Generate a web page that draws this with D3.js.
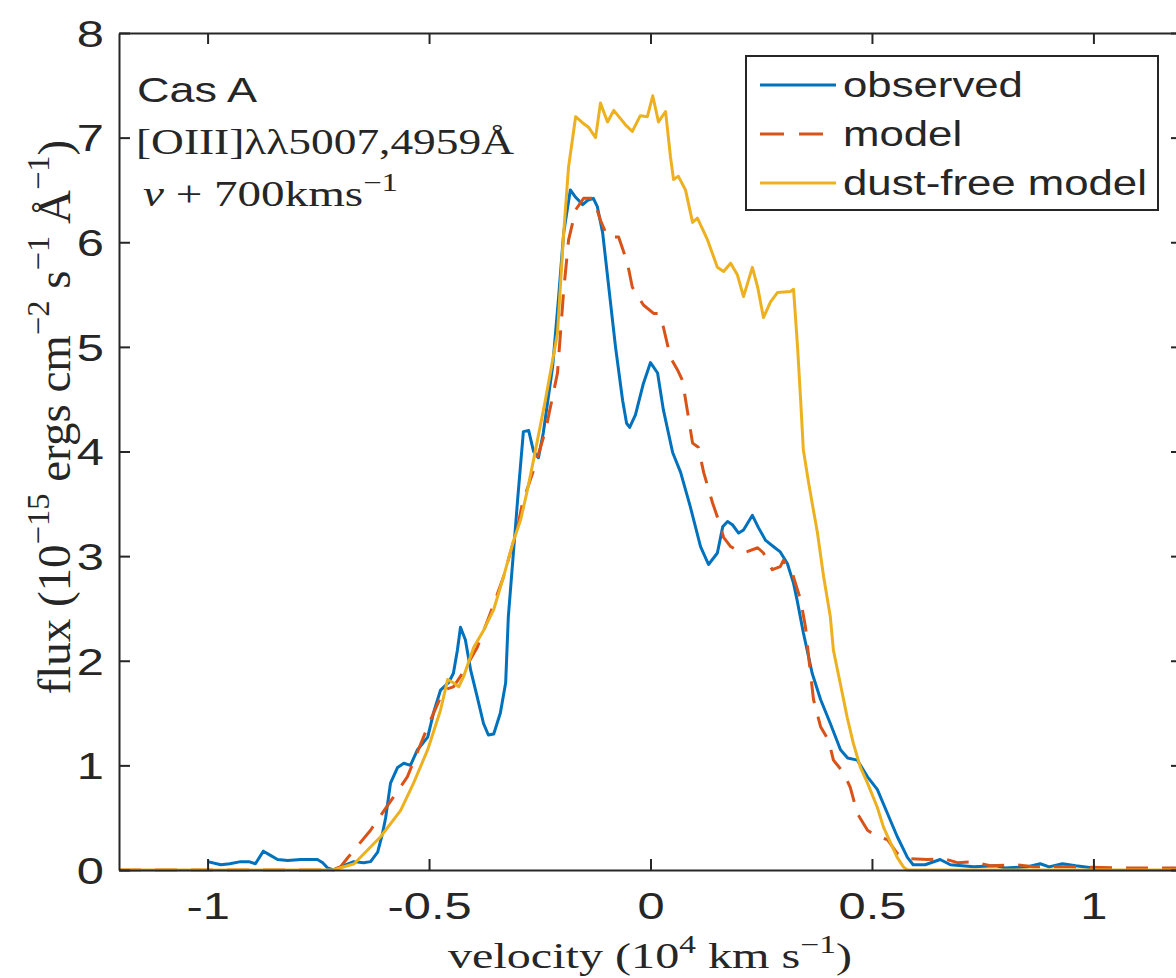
<!DOCTYPE html>
<html>
<head>
<meta charset="utf-8">
<script src="https://cdn.jsdelivr.net/npm/d3@7.9.0/dist/d3.min.js"></script>
<style>
  html, body { margin: 0; padding: 0; background: #fff; overflow: hidden; }
  svg { display: block; }
</style>
</head>
<body>
<svg id="chart" width="1176" height="978"></svg>
<script>
// velocity (10^4 km/s) vs flux (10^-15 ergs cm^-2 s^-1 A^-1)
const observed = [
  [-1.00,0.08],[-0.97,0.05],[-0.95,0.06],[-0.925,0.08],[-0.907,0.08],[-0.892,0.06],[-0.874,0.18],
  [-0.858,0.14],[-0.842,0.10],[-0.819,0.09],[-0.79,0.10],[-0.752,0.10],[-0.74,0.07],[-0.729,0.02],
  [-0.716,0.00],[-0.70,0.03],[-0.67,0.08],[-0.648,0.07],[-0.632,0.08],[-0.616,0.17],[-0.605,0.35],
  [-0.598,0.50],[-0.587,0.83],[-0.571,0.98],[-0.557,1.02],[-0.542,1.00],[-0.526,1.15],[-0.503,1.27],
  [-0.490,1.50],[-0.474,1.72],[-0.456,1.79],[-0.445,1.88],[-0.436,2.10],[-0.429,2.32],[-0.418,2.20],
  [-0.406,1.91],[-0.391,1.65],[-0.377,1.40],[-0.366,1.29],[-0.354,1.30],[-0.339,1.50],[-0.327,1.79],
  [-0.321,2.42],[-0.309,3.06],[-0.300,3.54],[-0.287,4.19],[-0.275,4.20],[-0.264,4.00],[-0.253,3.94],
  [-0.242,4.18],[-0.221,4.81],[-0.208,5.45],[-0.196,6.09],[-0.181,6.50],[-0.169,6.43],[-0.153,6.36],
  [-0.142,6.40],[-0.129,6.42],[-0.120,6.34],[-0.108,6.09],[-0.095,5.60],[-0.079,5.00],[-0.063,4.49],
  [-0.054,4.27],[-0.047,4.23],[-0.034,4.35],[-0.016,4.65],[0.000,4.85],[0.016,4.75],[0.029,4.40],
  [0.050,3.99],[0.068,3.80],[0.090,3.47],[0.113,3.09],[0.131,2.92],[0.151,3.03],[0.163,3.28],
  [0.174,3.33],[0.185,3.30],[0.199,3.22],[0.210,3.25],[0.230,3.39],[0.244,3.27],[0.260,3.15],
  [0.278,3.09],[0.293,3.04],[0.309,2.93],[0.323,2.74],[0.331,2.58],[0.345,2.27],[0.365,1.88],
  [0.384,1.63],[0.406,1.40],[0.429,1.15],[0.445,1.07],[0.467,1.05],[0.490,0.89],[0.512,0.77],
  [0.535,0.54],[0.557,0.32],[0.580,0.12],[0.593,0.05],[0.620,0.05],[0.654,0.10],[0.677,0.05],
  [0.73,0.03],[0.78,0.04],[0.80,0.02],[0.85,0.03],[0.88,0.06],[0.90,0.03],[0.93,0.06],[0.96,0.04],
  [1.00,0.02]
];

const model = [
  [-1.2,0.0],[-0.72,0.0],[-0.70,0.03],[-0.685,0.11],[-0.632,0.38],[-0.580,0.70],[-0.549,0.89],
  [-0.503,1.37],[-0.467,1.72],[-0.445,1.75],[-0.429,1.85],[-0.391,2.13],[-0.361,2.46],[-0.332,2.80],
  [-0.300,3.28],[-0.289,3.51],[-0.264,3.82],[-0.237,4.20],[-0.210,4.75],[-0.196,5.54],[-0.185,6.02],
  [-0.169,6.31],[-0.151,6.42],[-0.129,6.42],[-0.113,6.21],[-0.097,6.05],[-0.072,6.05],[-0.052,5.80],
  [-0.041,5.57],[-0.016,5.40],[0.007,5.32],[0.018,5.32],[0.029,5.19],[0.045,4.90],[0.061,4.78],
  [0.072,4.68],[0.084,4.37],[0.095,4.08],[0.108,4.04],[0.120,3.80],[0.140,3.51],[0.153,3.35],
  [0.165,3.18],[0.181,3.09],[0.210,3.03],[0.242,3.08],[0.255,3.03],[0.275,2.87],[0.293,2.90],
  [0.300,2.96],[0.320,2.84],[0.339,2.58],[0.350,2.32],[0.357,2.04],[0.368,1.63],[0.384,1.37],
  [0.402,1.24],[0.413,1.05],[0.436,0.93],[0.451,0.79],[0.467,0.54],[0.490,0.38],[0.512,0.32],
  [0.535,0.29],[0.557,0.16],[0.580,0.11],[0.625,0.10],[0.661,0.11],[0.693,0.07],[0.729,0.08],
  [0.767,0.04],[0.828,0.05],[0.865,0.03],[0.95,0.03],[1.05,0.02],[1.2,0.02]
];

const dustFree = [
  [-1.2,0.0],[-0.716,0.0],[-0.669,0.06],[-0.609,0.32],[-0.564,0.57],[-0.535,0.83],[-0.503,1.15],
  [-0.474,1.53],[-0.458,1.82],[-0.445,1.79],[-0.433,1.75],[-0.422,1.85],[-0.399,2.13],[-0.377,2.29],
  [-0.354,2.49],[-0.332,2.80],[-0.309,3.15],[-0.293,3.35],[-0.278,3.63],[-0.264,3.92],[-0.237,4.50],
  [-0.210,5.13],[-0.196,6.09],[-0.185,6.72],[-0.169,7.20],[-0.153,7.14],[-0.140,7.10],[-0.124,7.00],
  [-0.113,7.33],[-0.097,7.15],[-0.083,7.26],[-0.056,7.12],[-0.041,7.06],[-0.023,7.21],[-0.007,7.20],
  [0.005,7.40],[0.018,7.15],[0.034,7.25],[0.045,6.82],[0.052,6.60],[0.063,6.63],[0.079,6.50],
  [0.095,6.19],[0.106,6.23],[0.129,6.02],[0.151,5.76],[0.165,5.72],[0.181,5.80],[0.196,5.69],
  [0.210,5.48],[0.230,5.76],[0.242,5.57],[0.255,5.28],[0.271,5.43],[0.287,5.52],[0.316,5.53],
  [0.323,5.55],[0.332,5.00],[0.339,4.49],[0.345,4.02],[0.357,3.70],[0.377,3.22],[0.391,2.80],
  [0.406,2.42],[0.413,2.10],[0.433,1.69],[0.444,1.46],[0.458,1.21],[0.474,0.98],[0.490,0.83],
  [0.512,0.60],[0.526,0.41],[0.542,0.26],[0.557,0.12],[0.571,0.03],[0.580,0.0],[1.2,0.0]
];

const xTicks = [-1, -0.5, 0, 0.5, 1];
const yTicks = [0, 1, 2, 3, 4, 5, 6, 7, 8];
const seriesNames = ['observed', 'model', 'dust-free model'];
const seriesColors = ['#0072BD', '#D95319', '#EDB120'];

const AXIS_COLOR = '#262626';
const SANS = '"Liberation Sans", Arial, Helvetica, sans-serif';
const SERIF = '"Liberation Serif", "Times New Roman", serif';
const SX = 1.32; // the figure is stretched sideways, so are its glyphs

const svg = d3.select('#chart');

const x = d3.scaleLinear().domain([-1.2, 1.2]).range([119, 1182]);
const y = d3.scaleLinear().domain([0, 8]).range([870, 33]);

// place a text block in a group and scale it sideways so it spans `width` px
function fitText(parent, leftX, baseline, width, build) {
  const g = parent.append('g');
  const t = g.append('text').attr('x', 0).attr('y', 0);
  build(t);
  const bb = t.node().getBBox();
  const k = width / bb.width;
  g.attr('transform', `translate(${leftX - bb.x * k},${baseline}) scale(${k},1)`);
  return k;
}

// superscript helper (dy in px so it works across font sizes)
function sup(t, str, size, rise) {
  t.append('tspan').attr('font-size', size).attr('dy', -rise).text(str);
}

// ----- lines -----
const line = d3.line().x(d => x(d[0])).y(d => y(d[1]));
const lines = svg.append('g');

[observed, model, dustFree].forEach((data, i) => {
  lines.append('path')
    .datum(data)
    .attr('d', line)
    .attr('fill', 'none')
    .attr('stroke', seriesColors[i])
    .attr('stroke-width', 3)
    .attr('stroke-linejoin', 'round')
    .attr('stroke-dasharray', i === 1 ? '22,14' : null);
});

// ----- axes (box with inward ticks) -----
const fmt = d => String(d);
const axBottom = svg.append('g')
  .attr('transform', `translate(0,${y(0)})`)
  .call(d3.axisBottom(x).tickValues(xTicks).tickSizeInner(-11).tickSizeOuter(0).tickPadding(0).tickFormat(fmt));
const axLeft = svg.append('g')
  .attr('transform', `translate(${x(-1.2)},0)`)
  .call(d3.axisLeft(y).tickValues(yTicks).tickSizeInner(-11).tickSizeOuter(0).tickPadding(0).tickFormat(fmt));
const axTop = svg.append('g')
  .attr('transform', `translate(0,${y(8)})`)
  .call(d3.axisTop(x).tickValues(xTicks).tickSizeInner(-11).tickSizeOuter(0).tickFormat(''));
const axRight = svg.append('g')
  .attr('transform', `translate(${x(1.2)},0)`)
  .call(d3.axisRight(y).tickValues(yTicks).tickSizeInner(-11).tickSizeOuter(0).tickFormat(''));

[axBottom, axLeft, axTop, axRight].forEach(a => {
  a.select('.domain').attr('stroke', AXIS_COLOR).attr('stroke-width', 2);
  a.selectAll('.tick line').attr('stroke', AXIS_COLOR).attr('stroke-width', 2);
});

axBottom.selectAll('.tick text')
  .attr('font-family', SANS).attr('font-size', 37).attr('fill', AXIS_COLOR)
  .attr('y', 49).attr('dy', null)
  .attr('transform', `scale(${SX},1)`);

axLeft.selectAll('.tick text')
  .attr('font-family', SANS).attr('font-size', 37).attr('fill', AXIS_COLOR)
  .attr('x', -15 / SX).attr('dy', '0.36em')
  .attr('transform', `scale(${SX},1)`);

// ----- annotations -----
const notes = svg.append('g').attr('fill', AXIS_COLOR);

fitText(notes, 137, 102, 121, t => t.attr('font-family', SANS).attr('font-size', 35).text('Cas A'));

fitText(notes, 136, 154, 378, t => t.attr('font-family', SERIF).attr('font-size', 36)
  .text('[OIII]λλ5007,4959Å'));

fitText(notes, 143, 206, 255, t => {
  t.attr('font-family', SERIF).attr('font-size', 36);
  t.append('tspan').attr('font-style', 'italic').text('v');
  t.append('tspan').text(' + 700kms');
  sup(t, '−1', 25, 15);
});

// x label
fitText(svg, 448, 968, 404, t => {
  t.attr('font-family', SERIF).attr('font-size', 36).attr('fill', AXIS_COLOR);
  t.append('tspan').text('velocity (10');
  sup(t, '4', 25, 15);
  t.append('tspan').attr('dy', 15).text(' km s');
  sup(t, '−1', 25, 15);
  t.append('tspan').attr('dy', 15).text(')');
});

// y label (rotated)
{
  const g = svg.append('g');
  const t = g.append('text').attr('x', 0).attr('y', 0)
    .attr('font-family', SERIF).attr('font-size', 36).attr('fill', AXIS_COLOR);
  t.append('tspan').text('flux (10');
  sup(t, '−15', 25, 16);
  t.append('tspan').attr('dy', 16).text(' ergs cm');
  sup(t, '−2', 25, 16);
  t.append('tspan').attr('dy', 16).text(' s');
  sup(t, '−1', 25, 16);
  t.append('tspan').attr('dy', 16).text(' Å');
  sup(t, '−1', 25, 16);
  t.append('tspan').attr('dy', 16).text(')');
  const bb = t.node().getBBox();
  const kLen = 555 / bb.width;
  const cx = bb.x + bb.width / 2;
  g.attr('transform', `translate(70,417) rotate(-90) scale(${kLen},1.3) translate(${-cx},0)`);
}

// ----- legend -----
const legend = svg.append('g');
legend.append('rect')
  .attr('x', 746).attr('y', 56).attr('width', 412).attr('height', 154)
  .attr('fill', '#fff').attr('stroke', AXIS_COLOR).attr('stroke-width', 2);

const rowY = d3.scalePoint().domain(seriesNames).range([85, 183]);

seriesNames.forEach((name, i) => {
  legend.append('line')
    .attr('x1', 760).attr('x2', 836)
    .attr('y1', rowY(name)).attr('y2', rowY(name))
    .attr('stroke', seriesColors[i]).attr('stroke-width', 3)
    .attr('stroke-dasharray', i === 1 ? '24,15' : null);
});

const legendK = fitText(legend, 843, rowY(seriesNames[2]) + 12, 304,
  t => t.attr('font-family', SANS).attr('font-size', 35).attr('fill', AXIS_COLOR).text(seriesNames[2]));

seriesNames.slice(0, 2).forEach(name => {
  legend.append('text')
    .attr('transform', `translate(843,${rowY(name) + 12}) scale(${legendK},1)`)
    .attr('font-family', SANS).attr('font-size', 35).attr('fill', AXIS_COLOR)
    .text(name);
});
</script>
</body>
</html>
